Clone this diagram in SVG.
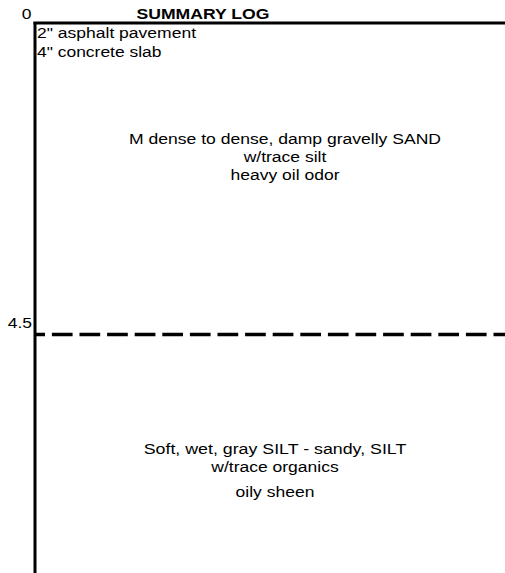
<svg xmlns="http://www.w3.org/2000/svg" width="505" height="573" viewBox="0 0 505 573">
<style>
text{font-family:"Liberation Sans",Arial,sans-serif;font-size:15.5px;fill:#000}
.b{font-weight:bold}
.c{text-anchor:middle}
</style>
<rect width="505" height="573" fill="#fff"/>
<g id="connectors">
<line x1="35" y1="22" x2="35" y2="573" stroke="#000" stroke-width="3"/>
<line x1="33.5" y1="23" x2="505" y2="23" stroke="#000" stroke-width="3"/>
<line x1="35" y1="334.5" x2="505" y2="334.5" stroke="#000" stroke-width="3.5" stroke-dasharray="20.7 6.9" stroke-dashoffset="10.7"/>
</g>
<g id="header">
<text x="26.5" y="18.5" class="c" textLength="9.7" lengthAdjust="spacingAndGlyphs">0</text>
<text x="203" y="18.5" class="b c" textLength="133" lengthAdjust="spacingAndGlyphs">SUMMARY LOG</text>
</g>
<g id="layer1">
<text x="37" y="38" textLength="159" lengthAdjust="spacingAndGlyphs">2" asphalt pavement</text>
<text x="37" y="56.5" textLength="124.5" lengthAdjust="spacingAndGlyphs">4" concrete slab</text>
<text x="285" y="144" class="c" textLength="312" lengthAdjust="spacingAndGlyphs">M dense to dense, damp gravelly SAND</text>
<text x="285" y="162" class="c" textLength="82.7" lengthAdjust="spacingAndGlyphs">w/trace silt</text>
<text x="285" y="180" class="c" textLength="109" lengthAdjust="spacingAndGlyphs">heavy oil odor</text>
</g>
<g id="depth45">
<text x="32" y="328" text-anchor="end" textLength="24.3" lengthAdjust="spacingAndGlyphs">4.5</text>
</g>
<g id="layer2">
<text x="275" y="454" class="c" textLength="262.6" lengthAdjust="spacingAndGlyphs">Soft, wet, gray SILT - sandy, SILT</text>
<text x="275" y="472" class="c" textLength="127.4" lengthAdjust="spacingAndGlyphs">w/trace organics</text>
<text x="275" y="497" class="c" textLength="78.8" lengthAdjust="spacingAndGlyphs">oily sheen</text>
</g>
</svg>
